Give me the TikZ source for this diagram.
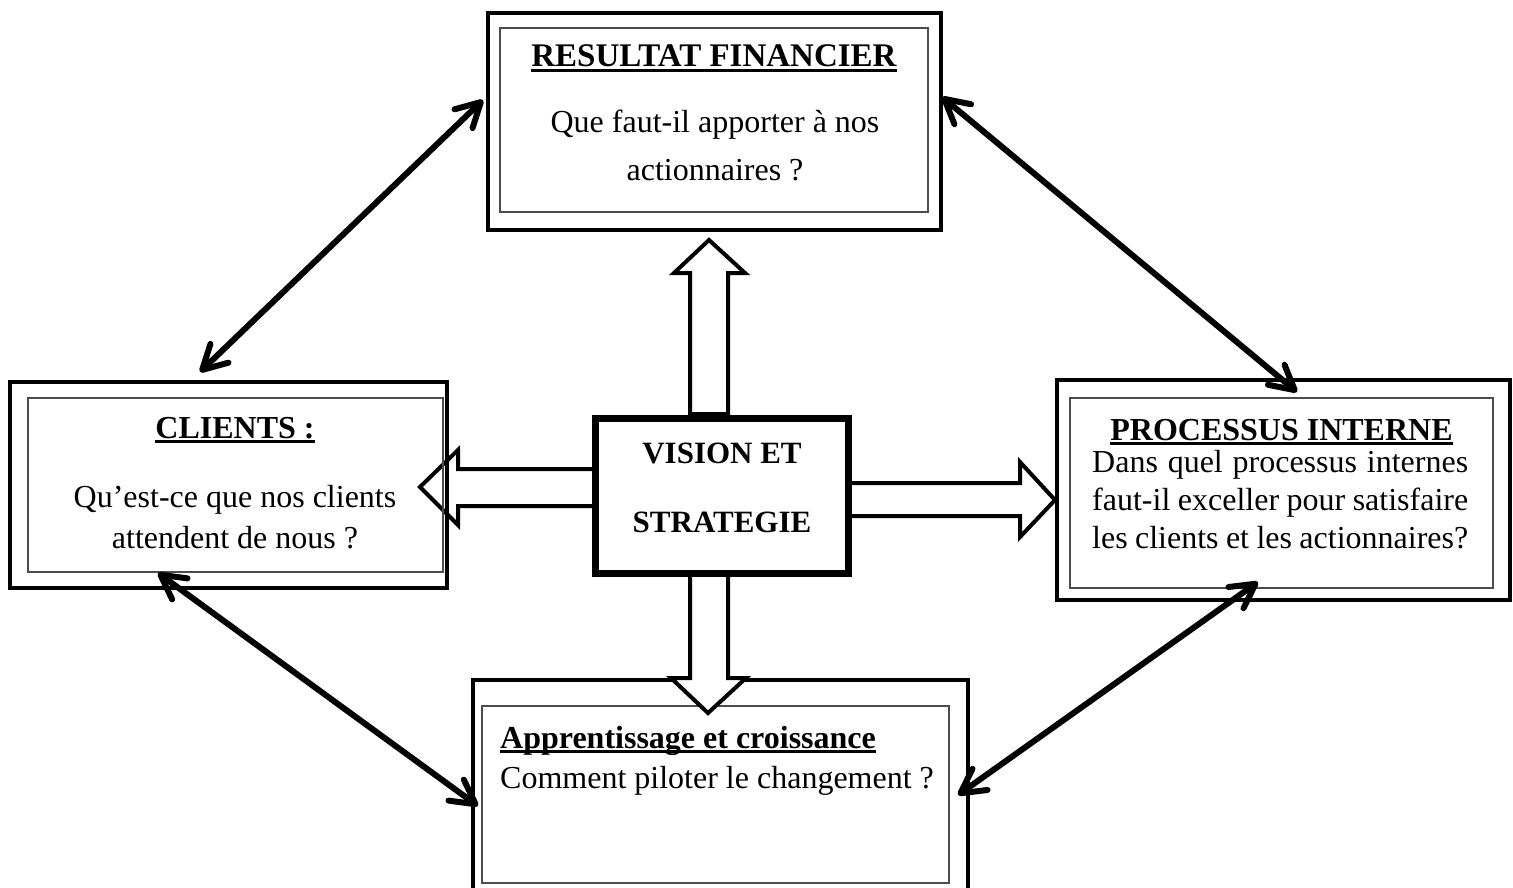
\documentclass[tikz,border=0pt]{standalone}
\usepackage{fontspec}
\setmainfont{Liberation Serif}
\usetikzlibrary{arrows.meta,calc}
% bold title with a heavy underline
\newcommand\ultitle[1]{\setbox0=\hbox{\bfseries #1}\rlap{\rule[-5pt]{\wd0}{3pt}}\box0}
\begin{document}
\begin{tikzpicture}[x=1pt,y=-1pt,
  outerbox/.style={draw=black,line width=4pt,fill=white,rectangle,outer sep=0pt,inner sep=0pt},
  frameline/.style={draw=black,line width=4pt},
  innerbox/.style={draw=black!70,line width=1.4pt},
  visbox/.style={draw=black,line width=7pt,fill=white,rectangle,outer sep=0pt,inner sep=0pt},
  blockarrow/.style={draw=black,line width=4pt,fill=white,line join=miter},
  link/.style={line width=6pt,
    {Straight Barb[length=24pt,width=26pt,line cap=round,line join=round]}-{Straight Barb[length=24pt,width=26pt,line cap=round,line join=round]}},
  body/.style={inner sep=0pt,font=\fontsize{32}{38}\selectfont},
  ttl/.style={inner sep=0pt,font=\fontsize{32}{38}\selectfont}]
\useasboundingbox (0,0) rectangle (1513,888);
\fill[white] (0,0) rectangle (1513,888);

% block arrows leaving the centre box (up, right)
\draw[blockarrow] (690,414) -- (690,273) -- (674,273) -- (709,240) -- (745,273) -- (728,273) -- (728,414) -- cycle;
\draw[blockarrow] (846,483) -- (1020,483) -- (1020,462) -- (1055,500) -- (1020,537) -- (1020,516) -- (846,516) -- cycle;

% outer frames
\node[outerbox,minimum width=453pt,minimum height=217pt] (fin) at (714.5,121.5) {};
\node[outerbox,minimum width=437pt,minimum height=206pt] (cli) at (228.5,485) {};
\node[outerbox,minimum width=453pt,minimum height=220pt] (proc) at (1283.5,490) {};
\node[outerbox,minimum width=495pt,minimum height=210pt] (app) at (720.5,785) {};

% inner frames
\draw[innerbox] (500,28) rectangle (928,212);
\draw[innerbox] (28,398) rectangle (443,572);
\draw[innerbox] (1070,398) rectangle (1493,588);
\draw[innerbox] (482,706) rectangle (949,883);

% left block arrow, its head lying over the client box
\draw[blockarrow] (597,469) -- (458,469) -- (458,450) -- (420,487) -- (458,525) -- (458,506) -- (597,506) -- cycle;
\draw[innerbox] (443,440) -- (443,535);
\draw[frameline] (cli.north east) -- (cli.south east);

% down block arrow, its head lying over the lower box
\draw[blockarrow] (690,572) -- (690,678) -- (671,678) -- (708,713) -- (746,678) -- (728,678) -- (728,572) -- cycle;

% centre box
\node[visbox,minimum width=253pt,minimum height=155pt] (vis) at (721.5,495.5) {};

% texts
\node[ttl,anchor=base,font=\fontsize{33}{38}\selectfont] (finT) at (714,67) {\ultitle{RESULTAT FINANCIER}};
\node[body,anchor=base] (finA) at (715,133) {Que faut-il apporter à nos};
\node[body,anchor=base] (finB) at (715,180) {actionnaires ?};

\node[ttl,anchor=base] (cliT) at (235,438) {\ultitle{CLIENTS :}};
\node[body,anchor=base] (cliA) at (235,507) {Qu’est-ce que nos clients};
\node[body,anchor=base] (cliB) at (235,548) {attendent de nous ?};

\node[ttl,anchor=base] (procT) at (1281.5,440) {\ultitle{PROCESSUS INTERNE}};
\node[body,anchor=base west] (procA) at (1092,472) {\makebox[376pt][s]{Dans quel processus internes}};
\node[body,anchor=base west] (procB) at (1092,510) {\makebox[376pt][s]{faut-il exceller pour satisfaire}};
\node[body,anchor=base west] (procC) at (1092,548) {\makebox[376pt][s]{les clients et les actionnaires?}};

\node[ttl,anchor=base west] (appT) at (500,748) {\ultitle{Apprentissage et croissance}};
\node[body,anchor=base west] (appA) at (500,788) {Comment piloter le changement ?};

\node[ttl,anchor=base,font=\fontsize{31}{36}\selectfont] (visA) at (722,463) {\bfseries VISION ET};
\node[ttl,anchor=base,font=\fontsize{31}{36}\selectfont] (visB) at (722,532) {\bfseries STRATEGIE};

% two-way links between the perspectives
\draw[link] ($(fin.west)+(-5,-21.5)$) -- ($(cli.north)+(-28.5,-10)$);
\draw[link] ($(fin.east)+(1,-24.5)$) -- ($(proc.north)+(13.5,12)$);
\draw[link] ($(cli.south)+(-70.5,-15)$) -- ($(app.west)+(5,21)$);
\draw[link] ($(proc.south)+(-25.5,-18)$) -- ($(app.east)+(-10,10)$);
\end{tikzpicture}
\end{document}
